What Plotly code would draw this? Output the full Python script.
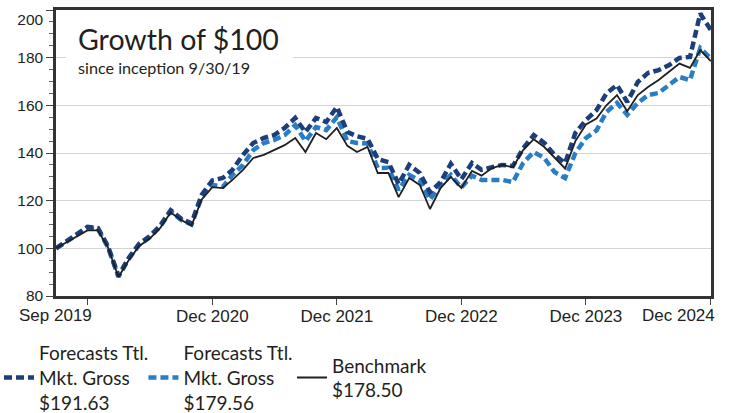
import pandas as pd
import plotly.graph_objects as go

# Monthly dates from inception (Sep 2019) to Dec 2024
dates = pd.date_range("2019-09-30", periods=64, freq="ME")

benchmark = [100, 102.5, 105, 107.5, 107.5, 100.5, 88, 95, 101, 104,
             108.5, 115, 112, 109.5, 120.5, 125.7, 125.3, 128.7, 132.9, 137.9,
             139.2, 141.2, 143.3, 146.3, 140.4, 148.4, 145.8, 150.5, 143, 140.4,
             142.5, 131.6, 131.6, 121.5, 129.5, 126.6, 116.5, 125.3, 130, 125.3,
             132.5, 130.5, 133.7, 135, 134, 141.2, 145.8, 142.5, 137.9, 133.5,
             145, 152, 154.5, 160, 164.3, 157.5, 164.3, 167.7, 170.6, 174,
             177.5, 175.7, 183.2, 178.5]

forecasts_a = [100, 103, 106, 109, 108.5, 101, 88.5, 96, 102, 105,
               109.5, 116, 112.5, 110.5, 122.5, 128.5, 129.5, 132.9, 139.2, 144.2,
               146.3, 147.5, 150.5, 154.7, 148.8, 154.7, 153, 159.3, 148.8, 147,
               146, 137.5, 136.2, 127, 135, 131.6, 123.5, 127.8, 135.5, 129,
               135.8, 132.9, 134, 135, 134.5, 142, 147.5, 144.2, 139.2, 135.8,
               148.4, 153.8, 158, 165, 168.5, 161.4, 169.8, 173.6, 174.8, 176.9,
               179.9, 180.3, 198.5, 191.63]

forecasts_b = [100, 103, 105.5, 108.5, 108, 100.5, 88, 95.5, 101.5, 104.5,
               109, 115.5, 112, 110, 121.5, 126.6, 125.8, 130.8, 135, 141.2,
               144.2, 145.4, 147.5, 151.7, 145, 150.9, 149.6, 155, 145, 144.2,
               144, 133.7, 133.8, 124.5, 130.8, 128.5, 120.5, 126.5, 130.8, 125.5,
               130.5, 128.7, 128.7, 128.7, 127.8, 135.8, 140.4, 137.9, 132, 129.5,
               140, 146.3, 149.5, 157.2, 161, 156, 161, 164.3, 165.2, 168.5,
               171.9, 170.6, 184, 179.56]

names = ["Forecasts Ttl.<br>Mkt. Gross<br>$191.63",
         "Forecasts Ttl.<br>Mkt. Gross<br>$179.56",
         "Benchmark<br>$178.50"]

# x tick marks (year ends); first and last labels are set at the chart edges
tick_dates = ["2019-12-31", "2020-12-31", "2021-12-31", "2022-12-31", "2023-12-31", "2024-12-31"]
tick_text = ["", "Dec 2020", "Dec 2021", "Dec 2022", "Dec 2023", ""]
start_label, start_date = "Sep 2019", "2019-09-30"
end_label, end_date = "Dec 2024", "2024-12-31"

y_ticks = [80, 100, 120, 140, 160, 180, 200]
y_text = ["80", "100", "120", "140", "160", "180", "\u00a0<br>200"]

DARK = "#1c3e7b"
LIGHT = "#2a7dc5"
BLACK = "#231f20"
TEXT_FONT = "Lato"
AXIS_FONT = "Liberation Sans"

fig = go.Figure()
fig.add_trace(go.Scatter(x=dates, y=forecasts_b, name=names[1], mode="lines", legend="legend2",
                         line=dict(color=LIGHT, width=4.5, dash="8px,4px")))
fig.add_trace(go.Scatter(x=dates, y=forecasts_a, name=names[0], mode="lines", legend="legend",
                         line=dict(color=DARK, width=4.5, dash="8px,4px")))
fig.add_trace(go.Scatter(x=dates, y=benchmark, name=names[2], mode="lines", legend="legend3",
                         line=dict(color=BLACK, width=1.8)))

leg_common = dict(orientation="v", xanchor="left", yanchor="top",
                  font=dict(family=TEXT_FONT, size=19, color=BLACK),
                  bgcolor="rgba(0,0,0,0)", borderwidth=0)

fig.update_layout(
    width=730, height=413,
    margin=dict(l=56, r=19, t=10, b=117, autoexpand=False),
    paper_bgcolor="white", plot_bgcolor="white",
    showlegend=True,
    legend=dict(x=-0.087, y=-0.1329, **leg_common),
    legend2=dict(x=0.1335, y=-0.1329, **leg_common),
    legend3=dict(x=0.3603, y=-0.1759, **leg_common),
    xaxis=dict(range=["2019-09-30", "2024-12-31 12:00"], tickvals=tick_dates, ticktext=tick_text,
               showgrid=False, ticks="outside", ticklen=6, tickcolor="#444",
               ticklabelstandoff=-3,
               showline=True, linecolor="#333", linewidth=2.5, mirror=True, automargin=False,
               tickfont=dict(family=AXIS_FONT, size=17, color=BLACK)),
    yaxis=dict(range=[80, 200], tickvals=y_ticks, ticktext=y_text, ticks="outside", ticklen=7,
               tickcolor="#444", showgrid=True, gridcolor="#d3d3d3", gridwidth=1,
               ticklabeloverflow="allow",
               showline=True, linecolor="#333", linewidth=2.5, mirror=True, automargin=False,
               minor=dict(dtick=5, tick0=80, ticks="outside", ticklen=4, tickcolor="#666",
                          showgrid=False),
               tickfont=dict(family=AXIS_FONT, size=15.5, color=BLACK), zeroline=False),
)

# edge labels of the date axis
fig.add_annotation(text=start_label, xref="x", yref="paper", x=start_date, y=-0.0699,
                   xanchor="center", yanchor="middle", showarrow=False, xshift=-1,
                   font=dict(family=AXIS_FONT, size=17, color=BLACK))
fig.add_annotation(text=end_label, xref="x", yref="paper", x=end_date, y=-0.0699,
                   xanchor="right", yanchor="middle", showarrow=False, xshift=6,
                   font=dict(family=AXIS_FONT, size=17, color=BLACK))

# white panel behind the title (hides the gridline there)
fig.add_shape(type="rect", xref="paper", yref="y", x0=0.015, x1=0.362, y0=177, y1=183,
              fillcolor="white", line=dict(width=0), layer="above")

fig.add_annotation(text="Growth of $100", xref="paper", yref="paper", x=0.0305, y=0.898,
                   xanchor="left", yanchor="middle", showarrow=False,
                   font=dict(family=TEXT_FONT, size=28.5, color=BLACK))
fig.add_annotation(text="since inception 9/30/19", xref="paper", yref="paper", x=0.0305, y=0.800,
                   xanchor="left", yanchor="middle", showarrow=False,
                   font=dict(family=TEXT_FONT, size=16.2, color=BLACK))

fig.write_html("out.html", post_script="document.body.style.margin='0';",
               config={"displayModeBar": False})
